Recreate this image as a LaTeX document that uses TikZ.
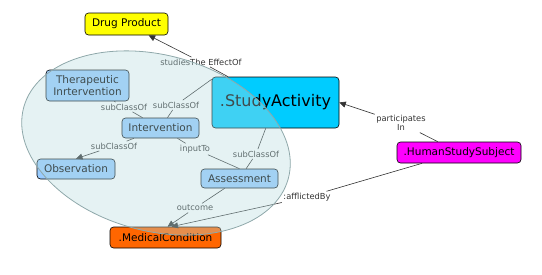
\documentclass[tikz,border=0pt]{standalone}
\usepackage{fontspec}
\setmainfont{DejaVu Sans}
\usetikzlibrary{arrows.meta}
\definecolor{conceptblue}{HTML}{99CCFF}
\definecolor{sacyan}{HTML}{00CCFF}
\definecolor{mcorange}{HTML}{FF6600}
\definecolor{hssmag}{HTML}{FF00FF}
\definecolor{drugyel}{HTML}{FFFF00}
\definecolor{ellfill}{rgb}{0.71,0.86,0.87}
\definecolor{ellline}{HTML}{8FA8AA}
\definecolor{linkgray}{HTML}{333333}
\tikzset{
  concept/.style={draw=black, line width=0.6pt, rounded corners=3.5pt, inner sep=0pt,
    align=center, font=\fontsize{10.5}{11.5}\selectfont, text=black},
  linklab/.style={inner sep=1.5pt, font=\fontsize{8.3}{9.5}\selectfont, text=linkgray, align=center},
  conn/.style={draw=linkgray, line width=0.6pt},
  arr/.style={conn, -{Triangle[length=6.5pt,width=6pt]}},
}
\begin{document}
\begin{tikzpicture}[x=1pt,y=-1pt]
\useasboundingbox (0,0) rectangle (542,274);
% concepts
\node[concept, fill=drugyel, minimum width=83pt, minimum height=22pt] (drug) at (126.5,24) {Drug Product};
\node[concept, fill=conceptblue, minimum width=83pt, minimum height=31pt] (ther) at (87.5,85.5) {Therapeutic\\Inrtervention};
\node[concept, fill=conceptblue, minimum width=77pt, minimum height=20pt] (interv) at (160.5,128) {Intervention};
\node[concept, fill=conceptblue, minimum width=78pt, minimum height=20pt] (obs) at (76,169) {Observation};
\node[concept, fill=conceptblue, minimum width=77pt, minimum height=19pt] (asm) at (239.5,178.5) {Assessment};
\node[concept, fill=sacyan, minimum width=127pt, minimum height=51pt, font=\fontsize{16}{18}\selectfont] (sa) at (275.5,102.5) {.StudyActivity};
\node[concept, fill=mcorange, minimum width=111pt, minimum height=21pt] (mc) at (165.5,237.5) {.MedicalCondition};
\node[concept, fill=hssmag, minimum width=124pt, minimum height=21pt] (hss) at (459,152.5) {.HumanStudySubject};
% linking phrases
\node[linklab] (lstud) at (201,62) {studiesThe EffectOf};
\node[linklab] (lsub1) at (124,107) {subClassOf};
\node[linklab] (lsub2) at (176,105) {subClassOf};
\node[linklab] (lsub3) at (114,146) {subClassOf};
\node[linklab] (linp) at (195,149) {inputTo};
\node[linklab] (lsub4) at (256,154) {subClassOf};
\node[linklab] (lout) at (195,208) {outcome};
\node[linklab] (lpart) at (401,123) {participates\\In};
\node[linklab] (laff) at (307,197) {:afflictedBy};
% connectors
\draw[conn] (sa) -- (lstud);
\draw[arr] (lstud) -- (drug);
\draw[conn] (ther) -- (lsub1);
\draw[conn] (lsub1) -- (interv);
\draw[conn] (interv) -- (lsub2);
\draw[conn] (lsub2) -- (sa.160);
\draw[conn] (interv) -- (lsub3);
\draw[arr] (lsub3) -- (obs.north);
\draw[conn] (interv) -- (linp);
\draw[conn] (linp) -- (asm.north);
\draw[conn] (asm) -- (lsub4);
\draw[conn] (lsub4) -- (sa);
\draw[conn] (asm) -- (lout);
\draw[arr] (lout) -- ([xshift=2pt]mc.north);
\draw[conn] (hss) -- (lpart);
\draw[arr] (lpart) -- (sa.east);
\draw[conn] (hss) -- (laff);
\draw[arr] (laff) -- ([xshift=6pt]mc.north);
% overlay ellipse
\draw[draw=ellline, line width=0.8pt, fill=ellfill, fill opacity=0.35, rotate around={-15:(156,143)}]
  (156,143) ellipse [x radius=137pt, y radius=88pt];
\end{tikzpicture}
\end{document}
